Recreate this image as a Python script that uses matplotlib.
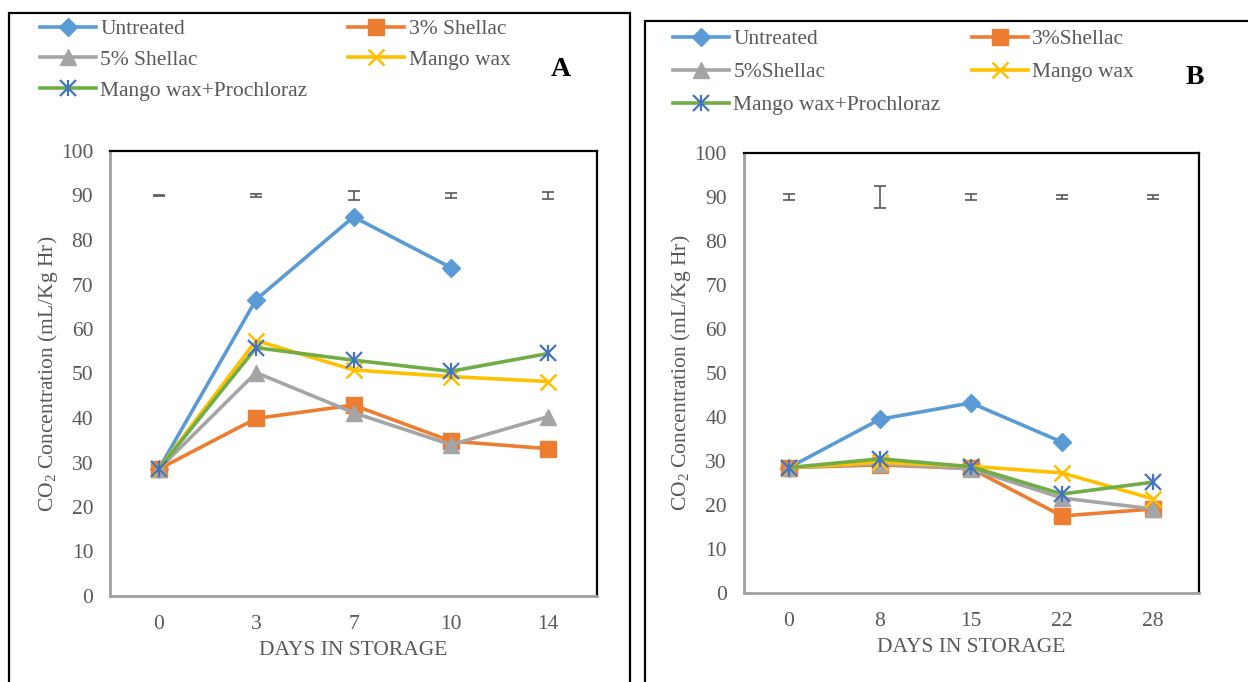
import matplotlib
matplotlib.use("Agg")
import matplotlib.pyplot as plt
from matplotlib.lines import Line2D
from matplotlib.patches import Rectangle

plt.rcParams["font.family"] = ["Liberation Serif", "DejaVu Serif"]
plt.rcParams["mathtext.fontset"] = "custom"
plt.rcParams["mathtext.rm"] = "Liberation Serif"

# panel A data
days_a = ["0", "3", "7", "10", "14"]
untreated_a = [28.5, 66.6, 85.2, 73.8, None]
shellac3_a = [28.5, 39.9, 42.9, 34.8, 33.1]
shellac5_a = [28.5, 50.2, 41.2, 34.0, 40.3]
mangowax_a = [28.5, 57.4, 50.8, 49.3, 48.2]
mwp_a = [28.5, 55.8, 53.0, 50.5, 54.5]
err_a = [0.1, 0.35, 1.0, 0.5, 0.75]

# panel B data
days_b = ["0", "8", "15", "22", "28"]
untreated_b = [28.5, 39.5, 43.2, 34.3, None]
shellac3_b = [28.5, 29.1, 28.3, 17.5, 19.1]
shellac5_b = [28.5, 29.4, 28.2, 21.6, 19.1]
mangowax_b = [28.5, 29.7, 28.8, 27.3, 21.4]
mwp_b = [28.5, 30.5, 28.7, 22.5, 25.2]
err_b = [0.7, 2.5, 0.6, 0.5, 0.5]

err_level = 90

names_a = ["Untreated", "3% Shellac", "5% Shellac", "Mango wax", "Mango wax+Prochloraz"]
names_b = ["Untreated", "3%Shellac", "5%Shellac", "Mango wax", "Mango wax+Prochloraz"]

c_blue = "#5B9BD5"
c_orange = "#ED7D31"
c_gray = "#A5A5A5"
c_yellow = "#FFC000"
c_green = "#70AD47"
c_star = "#4472C4"
txt = "#595959"
fs = 15.5

styles = [
    dict(color=c_blue, marker="D", markersize=9),
    dict(color=c_orange, marker="s", markersize=11),
    dict(color=c_gray, marker="^", markersize=11),
    dict(color=c_yellow, marker="x", markersize=11, markeredgewidth=1.8),
    dict(color=c_green, marker="x", markersize=11, markeredgewidth=1.6,
         markeredgecolor=c_star),
]

fig = plt.figure(figsize=(12.48, 6.82), dpi=100)

# outer frames of both panels
fig.patches.append(Rectangle((9 / 1248, -0.05), 621 / 1248, 1.05 - 13 / 682,
                             transform=fig.transFigure, fill=False,
                             edgecolor="black", linewidth=1.6))
fig.patches.append(Rectangle((645 / 1248, -0.05), 0.6, 1.05 - 21 / 682,
                             transform=fig.transFigure, fill=False,
                             edgecolor="black", linewidth=1.6))


def draw_panel(ax, days, series, errs, names, letter, legend_xy, letter_xy,
               colsp, labsp):
    x = list(range(len(days)))
    handles = []
    for vals, st in zip(series, styles):
        xs = [xi for xi, v in zip(x, vals) if v is not None]
        ys = [v for v in vals if v is not None]
        (ln,) = ax.plot(xs, ys, linewidth=2.6, zorder=3, **st)
        handles.append(ln)
    # asterisk vertical stroke for the last series
    ax.plot(x, series[-1], linestyle="none", marker="|", markersize=11,
            markeredgewidth=1.6, color=c_star, zorder=4)
    vbar = Line2D([], [], linestyle="none", marker="|", markersize=11,
                  markeredgewidth=1.6, color=c_star)
    handles[-1] = (handles[-1], vbar)

    ax.errorbar(x, [err_level] * len(x), yerr=errs, fmt="none", ecolor=txt,
                elinewidth=1.2, capsize=4, capthick=1.2, zorder=2)

    ax.set_xlim(-0.5, len(days) - 0.5)
    ax.set_ylim(0, 100)
    ax.set_yticks(range(0, 101, 10))
    ax.set_xticks(x)
    ax.set_xticklabels(days)
    ax.tick_params(length=0, labelsize=fs, colors=txt)
    ax.tick_params(axis="y", pad=12)
    ax.tick_params(axis="x", pad=14)
    for side in ["left", "bottom"]:
        ax.spines[side].set_color("#a0a0a0")
        ax.spines[side].set_linewidth(2)
    for side in ["top", "right"]:
        ax.spines[side].set_color("black")
        ax.spines[side].set_linewidth(1.6)
    ax.set_xlabel("DAYS IN STORAGE", fontsize=fs, color=txt, labelpad=5)
    ax.set_ylabel("CO$_2$ Concentration (mL/Kg Hr)", fontsize=fs, color=txt,
                  labelpad=1)

    order = [0, 2, 4, 1, 3]
    fig.legend([handles[i] for i in order], [names[i] for i in order],
               ncol=2, loc="upper left", bbox_to_anchor=legend_xy,
               frameon=False, fontsize=fs, handlelength=2.6,
               handletextpad=0.2, columnspacing=colsp, labelspacing=labsp,
               labelcolor=txt, borderaxespad=0, borderpad=0)
    fig.text(letter_xy[0], letter_xy[1], letter, fontsize=20,
             fontweight="bold", ha="center", va="center")


ax_a = fig.add_axes([110 / 1248, 86 / 682, 487 / 1248, 445 / 682])
draw_panel(ax_a, days_a,
           [untreated_a, shellac3_a, shellac5_a, mangowax_a, mwp_a],
           err_a, names_a, "A", (40 / 1248, 1 - 19 / 682),
           (561 / 1248, 1 - 70 / 682), 1.9, 0.5)

ax_b = fig.add_axes([743.5 / 1248, 89 / 682, 455 / 1248, 440 / 682])
draw_panel(ax_b, days_b,
           [untreated_b, shellac3_b, shellac5_b, mangowax_b, mwp_b],
           err_b, names_b, "B", (673 / 1248, 1 - 29 / 682),
           (1195 / 1248, 1 - 78 / 682), 1.45, 0.6)

fig.savefig("out.png", dpi=100)
